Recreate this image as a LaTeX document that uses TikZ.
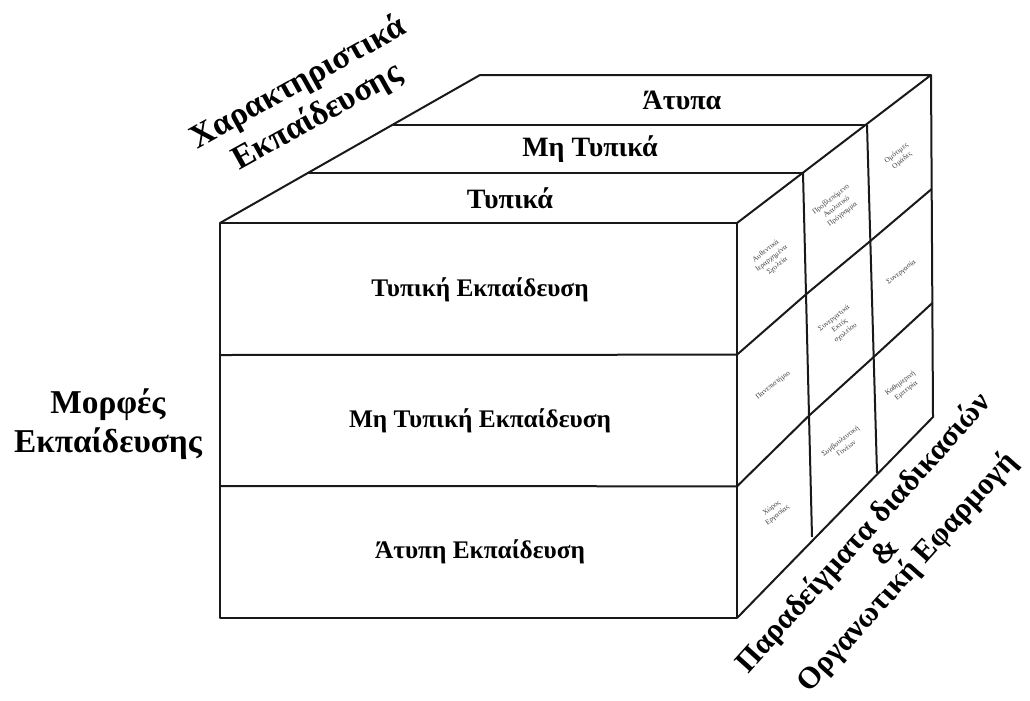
\documentclass[tikz,border=0pt]{standalone}
\usepackage{fontspec}
\setmainfont{Liberation Serif}
\usetikzlibrary{calc}
\begin{document}
\begin{tikzpicture}[x=0.75pt,y=-0.75pt,line join=round]
\tikzset{
  edge/.style={line width=1.5pt,draw=black!90},
  big/.style={font=\fontsize{19}{22}\selectfont\bfseries,inner sep=0pt},
  topl/.style={font=\fontsize{21}{24}\selectfont\bfseries,inner sep=0pt},
  axislabel/.style={font=\fontsize{25}{29}\selectfont\bfseries,align=center,inner sep=0pt},
  cell/.style={font=\fontsize{5.5}{7}\selectfont,align=center,text=black!75,inner sep=0pt,rotate=38}
}
\useasboundingbox (0,0) rectangle (1030,700);
% top face corners
\coordinate (L0) at (220,223);
\coordinate (L1) at (307,173);
\coordinate (L2) at (393,125);
\coordinate (L3) at (480,75);
\coordinate (S00) at (737,223);
\coordinate (S10) at (803,173);
\coordinate (S20) at (867,125);
\coordinate (S30) at (931,75);
\coordinate (S03) at (737,618);
\coordinate (S13) at (812,537);
\coordinate (S23) at (877,473);
\coordinate (S33) at (933,417);
\coordinate (FB) at (220,618);
\foreach \i in {0,1,2,3}{
  \coordinate (S\i1) at ($(S\i0)!1/3!(S\i3)$);
  \coordinate (S\i2) at ($(S\i0)!2/3!(S\i3)$);
}
\coordinate (F1) at (220,355);
\coordinate (F2) at (220,486);
% front face
\draw[edge] (L0) -- (S00) -- (S03) -- (FB) -- cycle;
\draw[edge] (F1) -- (S01);
\draw[edge] (F2) -- (S02);
% top face
\draw[edge] (L0) -- (L3) -- (S30) -- (S00);
\draw[edge] (L1) -- (S10);
\draw[edge] (L2) -- (S20);
% side face
\draw[edge] (S30) -- (S33) -- (S03);
\draw[edge] (S10) -- (S13);
\draw[edge] (S20) -- (S23);
\draw[edge] (S01) -- (S11) -- (S21) -- (S31);
\draw[edge] (S02) -- (S12) -- (S22) -- (S32);
% front texts
\node[big] (f1) at (480,290) {Τυπική Εκπαίδευση};
\node[big] (f2) at (480,421) {Μη Τυπική Εκπαίδευση};
\node[big] (f3) at (480,552) {Άτυπη Εκπαίδευση};
% top texts
\node[topl] (t1) at (510,198) {Τυπικά};
\node[topl] (t2) at (590,149) {Μη Τυπικά};
\node[topl] (t3) at (682,100) {Άτυπα};
% side cells
\node[cell] (c11) at ($(S00)!0.5!(S11)$) {Αυθεντικά\\Ιεραρχημένα\\Σχολεία};
\node[cell] (c21) at ($(S10)!0.5!(S21)$) {Προβλεπόμενο\\Αναλυτικό\\Πρόγραμμα};
\node[cell] (c31) at ($(S20)!0.5!(S31)$) {Ομότιμες\\Ομάδες};
\node[cell] (c12) at ($(S01)!0.5!(S12)$) {Πανεπιστήμιο};
\node[cell] (c22) at ($(S11)!0.5!(S22)$) {Συνεργατικά\\Εκτός\\σχολείου};
\node[cell] (c32) at ($(S21)!0.5!(S32)$) {Συνεργασία};
\node[cell] (c13) at ($(S02)!0.5!(S13)$) {Χώρος\\Εργασίας};
\node[cell] (c23) at ($(S12)!0.5!(S23)$) {Συμβουλευτική\\Γονέων};
\node[cell] (c33) at ($(S22)!0.5!(S33)$) {Καθημερινή\\Εμπειρία};
% axis labels
\node[axislabel] (morf) at (108,424) {Μορφές\\Εκπαίδευσης};
\node[axislabel,rotate=29] (char) at (308,100) {Χαρακτηριστικά\\Εκπαίδευσης};
\node[axislabel,font=\fontsize{23}{22}\selectfont\bfseries,rotate=48] (para) at (886,553) {Παραδείγματα διαδικασιών\\\&\\Οργανωτική Εφαρμογή};
\end{tikzpicture}
\end{document}
